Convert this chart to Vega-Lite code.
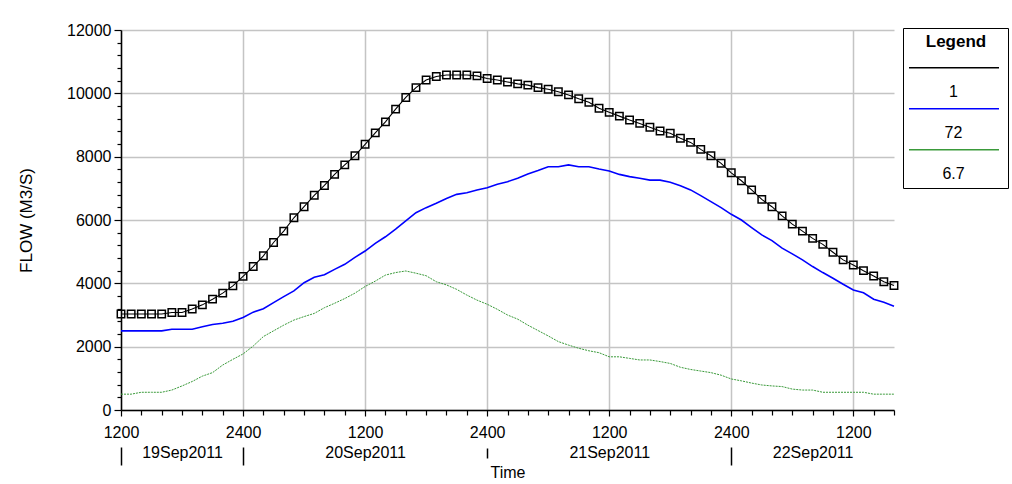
{
  "$schema": "https://vega.github.io/schema/vega-lite/v6.json",
  "width": 773,
  "height": 380,
  "autosize": {"type": "none"},
  "padding": {"left": 121, "top": 30, "right": 118, "bottom": 74},
  "background": "white",
  "config": {"font": "Liberation Sans", "view": {"stroke": null}},
  "data": {"values": [
    {"t":"2011-09-19T12:00","s":"1","v":3030},{"t":"2011-09-19T13:00","s":"1","v":3030},{"t":"2011-09-19T14:00","s":"1","v":3030},{"t":"2011-09-19T15:00","s":"1","v":3030},{"t":"2011-09-19T16:00","s":"1","v":3030},{"t":"2011-09-19T17:00","s":"1","v":3080},{"t":"2011-09-19T18:00","s":"1","v":3080},{"t":"2011-09-19T19:00","s":"1","v":3190},{"t":"2011-09-19T20:00","s":"1","v":3320},{"t":"2011-09-19T21:00","s":"1","v":3500},{"t":"2011-09-19T22:00","s":"1","v":3690},{"t":"2011-09-19T23:00","s":"1","v":3920},
    {"t":"2011-09-20T00:00","s":"1","v":4220},{"t":"2011-09-20T01:00","s":"1","v":4530},{"t":"2011-09-20T02:00","s":"1","v":4870},{"t":"2011-09-20T03:00","s":"1","v":5290},{"t":"2011-09-20T04:00","s":"1","v":5650},{"t":"2011-09-20T05:00","s":"1","v":6070},{"t":"2011-09-20T06:00","s":"1","v":6420},{"t":"2011-09-20T07:00","s":"1","v":6780},{"t":"2011-09-20T08:00","s":"1","v":7090},{"t":"2011-09-20T09:00","s":"1","v":7440},{"t":"2011-09-20T10:00","s":"1","v":7740},{"t":"2011-09-20T11:00","s":"1","v":8030},{"t":"2011-09-20T12:00","s":"1","v":8390},{"t":"2011-09-20T13:00","s":"1","v":8750},{"t":"2011-09-20T14:00","s":"1","v":9100},{"t":"2011-09-20T15:00","s":"1","v":9500},{"t":"2011-09-20T16:00","s":"1","v":9870},{"t":"2011-09-20T17:00","s":"1","v":10180},{"t":"2011-09-20T18:00","s":"1","v":10420},{"t":"2011-09-20T19:00","s":"1","v":10530},{"t":"2011-09-20T20:00","s":"1","v":10580},{"t":"2011-09-20T21:00","s":"1","v":10580},{"t":"2011-09-20T22:00","s":"1","v":10580},{"t":"2011-09-20T23:00","s":"1","v":10550},
    {"t":"2011-09-21T00:00","s":"1","v":10470},{"t":"2011-09-21T01:00","s":"1","v":10420},{"t":"2011-09-21T02:00","s":"1","v":10360},{"t":"2011-09-21T03:00","s":"1","v":10300},{"t":"2011-09-21T04:00","s":"1","v":10260},{"t":"2011-09-21T05:00","s":"1","v":10180},{"t":"2011-09-21T06:00","s":"1","v":10130},{"t":"2011-09-21T07:00","s":"1","v":10050},{"t":"2011-09-21T08:00","s":"1","v":9950},{"t":"2011-09-21T09:00","s":"1","v":9830},{"t":"2011-09-21T10:00","s":"1","v":9720},{"t":"2011-09-21T11:00","s":"1","v":9530},{"t":"2011-09-21T12:00","s":"1","v":9400},{"t":"2011-09-21T13:00","s":"1","v":9280},{"t":"2011-09-21T14:00","s":"1","v":9160},{"t":"2011-09-21T15:00","s":"1","v":9050},{"t":"2011-09-21T16:00","s":"1","v":8930},{"t":"2011-09-21T17:00","s":"1","v":8810},{"t":"2011-09-21T18:00","s":"1","v":8740},{"t":"2011-09-21T19:00","s":"1","v":8580},{"t":"2011-09-21T20:00","s":"1","v":8450},{"t":"2011-09-21T21:00","s":"1","v":8230},{"t":"2011-09-21T22:00","s":"1","v":8030},{"t":"2011-09-21T23:00","s":"1","v":7790},
    {"t":"2011-09-22T00:00","s":"1","v":7490},{"t":"2011-09-22T01:00","s":"1","v":7240},{"t":"2011-09-22T02:00","s":"1","v":6950},{"t":"2011-09-22T03:00","s":"1","v":6650},{"t":"2011-09-22T04:00","s":"1","v":6420},{"t":"2011-09-22T05:00","s":"1","v":6130},{"t":"2011-09-22T06:00","s":"1","v":5870},{"t":"2011-09-22T07:00","s":"1","v":5650},{"t":"2011-09-22T08:00","s":"1","v":5420},{"t":"2011-09-22T09:00","s":"1","v":5230},{"t":"2011-09-22T10:00","s":"1","v":4980},{"t":"2011-09-22T11:00","s":"1","v":4740},{"t":"2011-09-22T12:00","s":"1","v":4580},{"t":"2011-09-22T13:00","s":"1","v":4400},{"t":"2011-09-22T14:00","s":"1","v":4230},{"t":"2011-09-22T15:00","s":"1","v":4050},{"t":"2011-09-22T16:00","s":"1","v":3930},

    {"t":"2011-09-19T12:00","s":"72","v":2500},{"t":"2011-09-19T13:00","s":"72","v":2500},{"t":"2011-09-19T14:00","s":"72","v":2500},{"t":"2011-09-19T15:00","s":"72","v":2500},{"t":"2011-09-19T16:00","s":"72","v":2500},{"t":"2011-09-19T17:00","s":"72","v":2550},{"t":"2011-09-19T18:00","s":"72","v":2550},{"t":"2011-09-19T19:00","s":"72","v":2550},{"t":"2011-09-19T20:00","s":"72","v":2630},{"t":"2011-09-19T21:00","s":"72","v":2700},{"t":"2011-09-19T22:00","s":"72","v":2740},{"t":"2011-09-19T23:00","s":"72","v":2800},
    {"t":"2011-09-20T00:00","s":"72","v":2920},{"t":"2011-09-20T01:00","s":"72","v":3090},{"t":"2011-09-20T02:00","s":"72","v":3200},{"t":"2011-09-20T03:00","s":"72","v":3390},{"t":"2011-09-20T04:00","s":"72","v":3580},{"t":"2011-09-20T05:00","s":"72","v":3760},{"t":"2011-09-20T06:00","s":"72","v":4020},{"t":"2011-09-20T07:00","s":"72","v":4190},{"t":"2011-09-20T08:00","s":"72","v":4270},{"t":"2011-09-20T09:00","s":"72","v":4440},{"t":"2011-09-20T10:00","s":"72","v":4600},{"t":"2011-09-20T11:00","s":"72","v":4820},{"t":"2011-09-20T12:00","s":"72","v":5020},{"t":"2011-09-20T13:00","s":"72","v":5260},{"t":"2011-09-20T14:00","s":"72","v":5470},{"t":"2011-09-20T15:00","s":"72","v":5710},{"t":"2011-09-20T16:00","s":"72","v":5970},{"t":"2011-09-20T17:00","s":"72","v":6230},{"t":"2011-09-20T18:00","s":"72","v":6390},{"t":"2011-09-20T19:00","s":"72","v":6530},{"t":"2011-09-20T20:00","s":"72","v":6680},{"t":"2011-09-20T21:00","s":"72","v":6810},{"t":"2011-09-20T22:00","s":"72","v":6860},{"t":"2011-09-20T23:00","s":"72","v":6950},
    {"t":"2011-09-21T00:00","s":"72","v":7020},{"t":"2011-09-21T01:00","s":"72","v":7130},{"t":"2011-09-21T02:00","s":"72","v":7210},{"t":"2011-09-21T03:00","s":"72","v":7320},{"t":"2011-09-21T04:00","s":"72","v":7450},{"t":"2011-09-21T05:00","s":"72","v":7560},{"t":"2011-09-21T06:00","s":"72","v":7680},{"t":"2011-09-21T07:00","s":"72","v":7680},{"t":"2011-09-21T08:00","s":"72","v":7740},{"t":"2011-09-21T09:00","s":"72","v":7680},{"t":"2011-09-21T10:00","s":"72","v":7680},{"t":"2011-09-21T11:00","s":"72","v":7610},{"t":"2011-09-21T12:00","s":"72","v":7550},{"t":"2011-09-21T13:00","s":"72","v":7440},{"t":"2011-09-21T14:00","s":"72","v":7370},{"t":"2011-09-21T15:00","s":"72","v":7320},{"t":"2011-09-21T16:00","s":"72","v":7260},{"t":"2011-09-21T17:00","s":"72","v":7260},{"t":"2011-09-21T18:00","s":"72","v":7190},{"t":"2011-09-21T19:00","s":"72","v":7080},{"t":"2011-09-21T20:00","s":"72","v":6950},{"t":"2011-09-21T21:00","s":"72","v":6770},{"t":"2011-09-21T22:00","s":"72","v":6580},{"t":"2011-09-21T23:00","s":"72","v":6390},
    {"t":"2011-09-22T00:00","s":"72","v":6180},{"t":"2011-09-22T01:00","s":"72","v":6000},{"t":"2011-09-22T02:00","s":"72","v":5760},{"t":"2011-09-22T03:00","s":"72","v":5530},{"t":"2011-09-22T04:00","s":"72","v":5350},{"t":"2011-09-22T05:00","s":"72","v":5110},{"t":"2011-09-22T06:00","s":"72","v":4930},{"t":"2011-09-22T07:00","s":"72","v":4740},{"t":"2011-09-22T08:00","s":"72","v":4530},{"t":"2011-09-22T09:00","s":"72","v":4340},{"t":"2011-09-22T10:00","s":"72","v":4160},{"t":"2011-09-22T11:00","s":"72","v":3970},{"t":"2011-09-22T12:00","s":"72","v":3790},{"t":"2011-09-22T13:00","s":"72","v":3700},{"t":"2011-09-22T14:00","s":"72","v":3500},{"t":"2011-09-22T15:00","s":"72","v":3400},{"t":"2011-09-22T16:00","s":"72","v":3280},

    {"t":"2011-09-19T12:00","s":"6.7","v":500},{"t":"2011-09-19T13:00","s":"6.7","v":500},{"t":"2011-09-19T14:00","s":"6.7","v":560},{"t":"2011-09-19T15:00","s":"6.7","v":560},{"t":"2011-09-19T16:00","s":"6.7","v":560},{"t":"2011-09-19T17:00","s":"6.7","v":630},{"t":"2011-09-19T18:00","s":"6.7","v":760},{"t":"2011-09-19T19:00","s":"6.7","v":900},{"t":"2011-09-19T20:00","s":"6.7","v":1070},{"t":"2011-09-19T21:00","s":"6.7","v":1180},{"t":"2011-09-19T22:00","s":"6.7","v":1420},{"t":"2011-09-19T23:00","s":"6.7","v":1600},
    {"t":"2011-09-20T00:00","s":"6.7","v":1770},{"t":"2011-09-20T01:00","s":"6.7","v":2020},{"t":"2011-09-20T02:00","s":"6.7","v":2320},{"t":"2011-09-20T03:00","s":"6.7","v":2500},{"t":"2011-09-20T04:00","s":"6.7","v":2680},{"t":"2011-09-20T05:00","s":"6.7","v":2840},{"t":"2011-09-20T06:00","s":"6.7","v":2950},{"t":"2011-09-20T07:00","s":"6.7","v":3050},{"t":"2011-09-20T08:00","s":"6.7","v":3230},{"t":"2011-09-20T09:00","s":"6.7","v":3370},{"t":"2011-09-20T10:00","s":"6.7","v":3520},{"t":"2011-09-20T11:00","s":"6.7","v":3690},{"t":"2011-09-20T12:00","s":"6.7","v":3900},{"t":"2011-09-20T13:00","s":"6.7","v":4070},{"t":"2011-09-20T14:00","s":"6.7","v":4260},{"t":"2011-09-20T15:00","s":"6.7","v":4340},{"t":"2011-09-20T16:00","s":"6.7","v":4390},{"t":"2011-09-20T17:00","s":"6.7","v":4320},{"t":"2011-09-20T18:00","s":"6.7","v":4240},{"t":"2011-09-20T19:00","s":"6.7","v":4050},{"t":"2011-09-20T20:00","s":"6.7","v":3950},{"t":"2011-09-20T21:00","s":"6.7","v":3810},{"t":"2011-09-20T22:00","s":"6.7","v":3630},{"t":"2011-09-20T23:00","s":"6.7","v":3470},
    {"t":"2011-09-21T00:00","s":"6.7","v":3340},{"t":"2011-09-21T01:00","s":"6.7","v":3180},{"t":"2011-09-21T02:00","s":"6.7","v":3000},{"t":"2011-09-21T03:00","s":"6.7","v":2870},{"t":"2011-09-21T04:00","s":"6.7","v":2680},{"t":"2011-09-21T05:00","s":"6.7","v":2510},{"t":"2011-09-21T06:00","s":"6.7","v":2340},{"t":"2011-09-21T07:00","s":"6.7","v":2160},{"t":"2011-09-21T08:00","s":"6.7","v":2050},{"t":"2011-09-21T09:00","s":"6.7","v":1950},{"t":"2011-09-21T10:00","s":"6.7","v":1870},{"t":"2011-09-21T11:00","s":"6.7","v":1810},{"t":"2011-09-21T12:00","s":"6.7","v":1680},{"t":"2011-09-21T13:00","s":"6.7","v":1680},{"t":"2011-09-21T14:00","s":"6.7","v":1630},{"t":"2011-09-21T15:00","s":"6.7","v":1580},{"t":"2011-09-21T16:00","s":"6.7","v":1580},{"t":"2011-09-21T17:00","s":"6.7","v":1530},{"t":"2011-09-21T18:00","s":"6.7","v":1470},{"t":"2011-09-21T19:00","s":"6.7","v":1350},{"t":"2011-09-21T20:00","s":"6.7","v":1280},{"t":"2011-09-21T21:00","s":"6.7","v":1230},{"t":"2011-09-21T22:00","s":"6.7","v":1180},{"t":"2011-09-21T23:00","s":"6.7","v":1100},
    {"t":"2011-09-22T00:00","s":"6.7","v":980},{"t":"2011-09-22T01:00","s":"6.7","v":920},{"t":"2011-09-22T02:00","s":"6.7","v":850},{"t":"2011-09-22T03:00","s":"6.7","v":790},{"t":"2011-09-22T04:00","s":"6.7","v":760},{"t":"2011-09-22T05:00","s":"6.7","v":740},{"t":"2011-09-22T06:00","s":"6.7","v":660},{"t":"2011-09-22T07:00","s":"6.7","v":630},{"t":"2011-09-22T08:00","s":"6.7","v":630},{"t":"2011-09-22T09:00","s":"6.7","v":560},{"t":"2011-09-22T10:00","s":"6.7","v":560},{"t":"2011-09-22T11:00","s":"6.7","v":560},{"t":"2011-09-22T12:00","s":"6.7","v":560},{"t":"2011-09-22T13:00","s":"6.7","v":560},{"t":"2011-09-22T14:00","s":"6.7","v":500},{"t":"2011-09-22T15:00","s":"6.7","v":500},{"t":"2011-09-22T16:00","s":"6.7","v":500}
  ]},
  "layer": [
    {
      "transform": [{"filter": "datum.s == '6.7'"}],
      "mark": {"type": "line", "strokeWidth": 1, "strokeDash": [2, 1]},
      "encoding": {
        "x": {"field": "t", "type": "temporal", "scale": {"nice": false},
          "axis": {"orient": "bottom", "title": "Time", "titleFontSize": 16, "titleFontWeight": "normal", "titleColor": "black", "titlePadding": 24,
            "grid": true, "gridColor": "#c4c4c4", "gridWidth": 1.5,
            "values": [
              {"year": 2011, "month": 9, "date": 19, "hours": 12},
              {"year": 2011, "month": 9, "date": 20, "hours": 0},
              {"year": 2011, "month": 9, "date": 20, "hours": 12},
              {"year": 2011, "month": 9, "date": 21, "hours": 0},
              {"year": 2011, "month": 9, "date": 21, "hours": 12},
              {"year": 2011, "month": 9, "date": 22, "hours": 0},
              {"year": 2011, "month": 9, "date": 22, "hours": 12}],
            "labelExpr": "hours(datum.value) == 0 ? '2400' : '1200'",
            "labelOverlap": false, "labelFlush": false, "labelFontSize": 16, "labelColor": "black", "labelPadding": 8,
            "tickSize": 6, "tickColor": "black", "tickWidth": 1.2, "domainColor": "black", "domainWidth": 1.5}},
        "y": {"field": "v", "type": "quantitative", "scale": {"domain": [0, 12000], "nice": false},
          "axis": {"orient": "left", "title": "FLOW (M3/S)", "titleFontSize": 17, "titleFontWeight": "normal", "titleColor": "black", "titlePadding": 31,
            "values": [0, 2000, 4000, 6000, 8000, 10000, 12000], "format": "d",
            "grid": true, "gridColor": "#c4c4c4", "gridWidth": 1.5,
            "labelFontSize": 16, "labelColor": "black", "labelPadding": 3, "labelFlush": false,
            "tickSize": 7, "tickColor": "black", "tickWidth": 1.2, "domainColor": "black", "domainWidth": 1.5}},
        "color": {"field": "s", "type": "nominal",
          "scale": {"domain": ["1", "72", "6.7"], "range": ["#000000", "#0000ff", "#3a9a3a"]},
          "legend": {"title": "Legend", "orient": "none", "legendX": 782, "legendY": -2, "strokeColor": "black", "fillColor": "white", "padding": 6,
            "titleFontSize": 17, "titleFontWeight": "bold", "titleColor": "black", "titleAnchor": "middle", "titleAlign": "center", "titlePadding": 23,
            "symbolType": "M-5,-1.8L5,-1.8", "symbolSize": 324, "symbolStrokeWidth": 1.5, "symbolOffset": 35,
            "labelAlign": "center", "labelBaseline": "top", "labelOffset": -10.5, "labelFontSize": 16, "labelColor": "black", "rowPadding": 5}}
      }
    },
    {
      "transform": [{"filter": "datum.s == '72'"}],
      "mark": {"type": "line", "strokeWidth": 1.6},
      "encoding": {
        "x": {"field": "t", "type": "temporal", "scale": {"nice": false},
          "axis": {"orient": "bottom", "title": null, "grid": false, "labels": false, "domain": false,
            "values": [
              {"year": 2011, "month": 9, "date": 19, "hours": 14}, {"year": 2011, "month": 9, "date": 19, "hours": 16}, {"year": 2011, "month": 9, "date": 19, "hours": 18}, {"year": 2011, "month": 9, "date": 19, "hours": 20}, {"year": 2011, "month": 9, "date": 19, "hours": 22},
              {"year": 2011, "month": 9, "date": 20, "hours": 2}, {"year": 2011, "month": 9, "date": 20, "hours": 4}, {"year": 2011, "month": 9, "date": 20, "hours": 6}, {"year": 2011, "month": 9, "date": 20, "hours": 8}, {"year": 2011, "month": 9, "date": 20, "hours": 10},
              {"year": 2011, "month": 9, "date": 20, "hours": 14}, {"year": 2011, "month": 9, "date": 20, "hours": 16}, {"year": 2011, "month": 9, "date": 20, "hours": 18}, {"year": 2011, "month": 9, "date": 20, "hours": 20}, {"year": 2011, "month": 9, "date": 20, "hours": 22},
              {"year": 2011, "month": 9, "date": 21, "hours": 2}, {"year": 2011, "month": 9, "date": 21, "hours": 4}, {"year": 2011, "month": 9, "date": 21, "hours": 6}, {"year": 2011, "month": 9, "date": 21, "hours": 8}, {"year": 2011, "month": 9, "date": 21, "hours": 10},
              {"year": 2011, "month": 9, "date": 21, "hours": 14}, {"year": 2011, "month": 9, "date": 21, "hours": 16}, {"year": 2011, "month": 9, "date": 21, "hours": 18}, {"year": 2011, "month": 9, "date": 21, "hours": 20}, {"year": 2011, "month": 9, "date": 21, "hours": 22},
              {"year": 2011, "month": 9, "date": 22, "hours": 2}, {"year": 2011, "month": 9, "date": 22, "hours": 4}, {"year": 2011, "month": 9, "date": 22, "hours": 6}, {"year": 2011, "month": 9, "date": 22, "hours": 8}, {"year": 2011, "month": 9, "date": 22, "hours": 10},
              {"year": 2011, "month": 9, "date": 22, "hours": 14}, {"year": 2011, "month": 9, "date": 22, "hours": 16}],
            "tickSize": 5, "tickColor": "black", "tickWidth": 1.2}},
        "y": {"field": "v", "type": "quantitative", "scale": {"domain": [0, 12000], "nice": false},
          "axis": {"orient": "left", "title": null, "grid": false, "labels": false, "domain": false,
            "values": [400, 800, 1200, 1600, 2400, 2800, 3200, 3600, 4400, 4800, 5200, 5600, 6400, 6800, 7200, 7600, 8400, 8800, 9200, 9600, 10400, 10800, 11200, 11600],
            "tickSize": 4, "tickColor": "black", "tickWidth": 1.2}},
        "color": {"field": "s", "type": "nominal",
          "scale": {"domain": ["1", "72", "6.7"], "range": ["#000000", "#0000ff", "#3a9a3a"]}}
      }
    },
    {
      "transform": [{"filter": "datum.s == '1'"}],
      "mark": {"type": "line", "strokeWidth": 1.1},
      "encoding": {
        "x": {"field": "t", "type": "temporal", "scale": {"nice": false},
          "axis": {"orient": "bottom", "title": null, "grid": false, "domain": false, "ticks": false, "offset": 34,
            "values": [
              {"year": 2011, "month": 9, "date": 19, "hours": 18},
              {"year": 2011, "month": 9, "date": 20, "hours": 12},
              {"year": 2011, "month": 9, "date": 21, "hours": 12},
              {"year": 2011, "month": 9, "date": 22, "hours": 8}],
            "format": "%d%b%Y",
            "labelPadding": 0, "labelFontSize": 16, "labelColor": "black", "labelOverlap": false, "labelFlush": false}},
        "y": {"field": "v", "type": "quantitative", "scale": {"domain": [0, 12000], "nice": false}, "axis": null},
        "color": {"field": "s", "type": "nominal",
          "scale": {"domain": ["1", "72", "6.7"], "range": ["#000000", "#0000ff", "#3a9a3a"]}}
      }
    },
    {
      "transform": [{"filter": "datum.s == '1'"}],
      "mark": {"type": "point", "shape": "square", "filled": false, "size": 55, "stroke": "black", "strokeWidth": 1.5, "opacity": 1},
      "encoding": {
        "x": {"field": "t", "type": "temporal", "scale": {"nice": false},
          "axis": {"orient": "bottom", "title": null, "grid": false, "domain": false, "labels": false, "offset": 37,
            "values": [
              {"year": 2011, "month": 9, "date": 19, "hours": 12},
              {"year": 2011, "month": 9, "date": 20, "hours": 0},
              {"year": 2011, "month": 9, "date": 22, "hours": 0}],
            "tickSize": 18, "tickColor": "black", "tickWidth": 1.5}},
        "y": {"field": "v", "type": "quantitative", "scale": {"domain": [0, 12000], "nice": false}, "axis": null}
      }
    },
    {
      "transform": [{"filter": "datum.s == '1'"}],
      "mark": {"type": "line", "strokeOpacity": 0},
      "encoding": {
        "x": {"field": "t", "type": "temporal", "scale": {"nice": false},
          "axis": {"orient": "bottom", "title": null, "grid": false, "domain": false, "labels": false, "offset": 38,
            "values": [{"year": 2011, "month": 9, "date": 21, "hours": 0}],
            "tickSize": 10, "tickColor": "black", "tickWidth": 1.5}},
        "y": {"field": "v", "type": "quantitative", "scale": {"domain": [0, 12000], "nice": false}, "axis": null}
      }
    }
  ],
  "resolve": {"axis": {"x": "independent", "y": "independent"}}
}
